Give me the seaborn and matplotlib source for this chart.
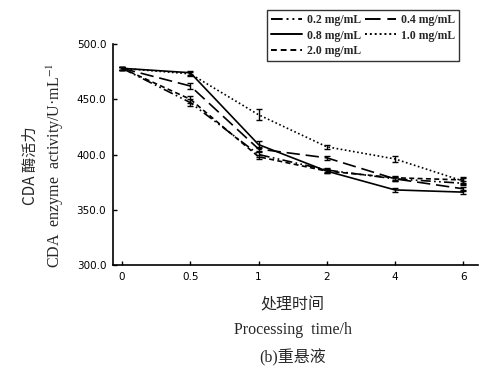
import matplotlib
matplotlib.use("Agg")
import matplotlib.pyplot as plt
import seaborn as sns
import pandas as pd
import numpy as np

sns.set_theme(style="white")
plt.rcParams['font.family'] = ['Liberation Serif', 'Noto Sans CJK SC', 'DejaVu Sans']
plt.rcParams['mathtext.fontset'] = 'stix'

time_labels = ["0", "0.5", "1", "2", "4", "6"]
series_names = ["0.2 mg/mL", "0.4 mg/mL", "0.8 mg/mL", "1.0 mg/mL", "2.0 mg/mL"]
v02 = [478, 447, 400, 386, 378, 374]
v04 = [478, 462, 405, 397, 378, 369]
v08 = [478, 474, 409, 385, 368, 366]
v10 = [478, 473, 436, 407, 396, 376]
v20 = [478, 450, 398, 385, 379, 377]
e02 = [1.5, 3, 2, 1.5, 2, 2]
e04 = [1.5, 3, 2, 1.5, 2, 2]
e08 = [1.5, 2, 3, 1.5, 1.5, 2]
e10 = [1.5, 2, 5, 2, 3, 3]
e20 = [1.5, 3, 2, 1.5, 2, 3]

values = [v02, v04, v08, v10, v20]
errors = [e02, e04, e08, e10, e20]
styles = [(0, (6, 2, 1, 2, 1, 2)), (0, (8, 3.5)), '-', (0, (1, 1.5)), (0, (3, 2))]

rows = []
for name, vals, errs in zip(series_names, values, errors):
    for i, (v, e) in enumerate(zip(vals, errs)):
        rows.append({"pos": i, "time": time_labels[i], "value": v, "err": e, "series": name})
df = pd.DataFrame(rows)

fig = plt.figure(figsize=(4.88, 3.76), dpi=100)
ax = fig.add_axes([0.232, 0.295, 0.748, 0.588])

handles = []
for name, ls in zip(series_names, styles):
    sub = df[df.series == name]
    sns.lineplot(data=sub, x="pos", y="value", ax=ax, color="black", lw=1.2,
                 linestyle=ls, legend=False)
    ax.errorbar(sub["pos"], sub["value"], yerr=sub["err"], fmt='none',
                ecolor='black', elinewidth=1.0, capsize=2.5, capthick=1.0)
    h, = ax.plot([], [], color='black', lw=1.4, linestyle=ls, label=name)
    handles.append(h)

ax.set_xlim(-0.13, 5.22)
ax.set_ylim(300, 500)
ax.set_xticks(range(len(time_labels)))
ax.set_xticklabels(time_labels)
ax.set_yticks([300, 350, 400, 450, 500])
ax.set_yticklabels(["300.0", "350.0", "400.0", "450.0", "500.0"])
for lab in ax.get_xticklabels() + ax.get_yticklabels():
    lab.set_family(['DejaVu Sans'])
    lab.set_fontsize(7.5)
ax.tick_params(axis='both', direction='in', length=3, width=1, colors='black',
               bottom=True, left=True, pad=5)
for s in ['top', 'right']:
    ax.spines[s].set_visible(False)
for s in ['left', 'bottom']:
    ax.spines[s].set_color('black')
    ax.spines[s].set_linewidth(1.2)
ax.set_xlabel("")
ax.set_ylabel("")
ax.grid(False)

order = [0, 2, 4, 1, 3]
leg = fig.legend([handles[i] for i in order], [series_names[i] for i in order],
                 ncol=2, loc='upper right', bbox_to_anchor=(465 / 488, 1 - 4 / 376),
                 frameon=True, fancybox=False, edgecolor='black',
                 prop={'family': 'Liberation Serif', 'size': 8.5, 'weight': 'bold'},
                 handlelength=2.6, columnspacing=0.4, labelspacing=0.3,
                 borderpad=0.35, handletextpad=0.4)
leg.get_frame().set_linewidth(1.0)

fam = ['Liberation Serif', 'Noto Sans CJK SC']
fig.text(0.6, 0.188, "处理时间", ha='center', va='center', fontsize=11.5, family=['Noto Sans CJK SC'])
fig.text(0.6, 0.122, "Processing  time/h", ha='center', va='center', fontsize=11.5, family=fam)
fig.text(0.6, 0.048, "(b)重悬液", ha='center', va='center', fontsize=11.5, family=fam)
fig.text(0.062, 0.56, "CDA 酶活力", ha='center', va='center', rotation=90, fontsize=11,
         family=['Noto Sans CJK SC'])
fig.text(0.113, 0.56, "CDA  enzyme  activity/U·mL$^{-1}$", ha='center', va='center',
         rotation=90, fontsize=11.5, family=fam)

fig.savefig("out.png", dpi=100)
